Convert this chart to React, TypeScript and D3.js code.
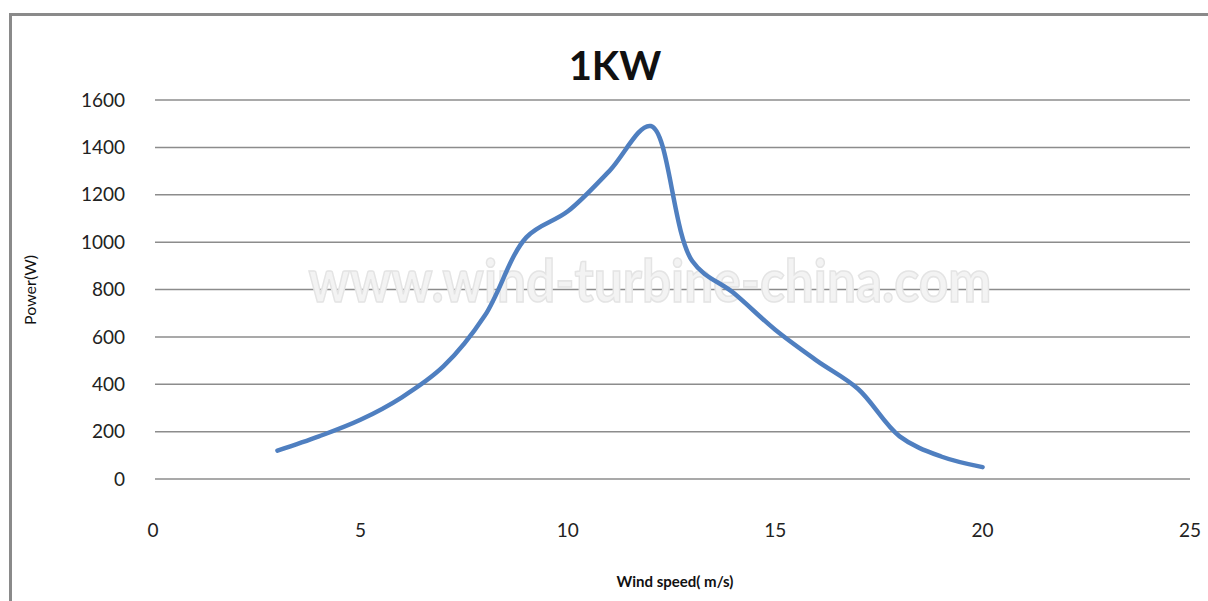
import React, { useEffect, useRef } from "react";
import * as d3 from "d3";

const windSpeed = [3, 4, 5, 6, 7, 8, 9, 10, 11, 12, 13, 14, 15, 16, 17, 18, 19, 20];
const power = [120, 180, 250, 345, 475, 690, 1020, 1130, 1300, 1490, 920, 785, 630, 500, 380, 180, 95, 50];
const xTicks = [0, 5, 10, 15, 20, 25];
const yTicks = [0, 200, 400, 600, 800, 1000, 1200, 1400, 1600];
const title = "1KW";
const xLabel = "Wind speed( m/s)";
const yLabel = "Power(W)";
const watermark = "www.wind-turbine-china.com";

const W = 1208;
const H = 601;
const M = { left: 153, right: 1190, top: 100, bottom: 479 };

export default function App() {
  const ref = useRef<SVGSVGElement>(null);
  useEffect(() => {
    const svg = d3.select(ref.current);
    svg.selectAll("*").remove();
    const x = d3.scaleLinear().domain([0, 25]).range([M.left, M.right]);
    const y = d3.scaleLinear().domain([0, 1600]).range([M.bottom, M.top]);
    const font = "Lato, 'Open Sans', sans-serif";

    svg.append("rect").attr("width", W).attr("height", H).attr("fill", "#fff");
    svg
      .append("rect")
      .attr("x", 10.5)
      .attr("y", 14.5)
      .attr("width", W + 20)
      .attr("height", H + 20)
      .attr("fill", "none")
      .attr("stroke", "#8a8a8a")
      .attr("stroke-width", 3);

    // gridlines
    svg
      .append("g")
      .selectAll("line")
      .data(yTicks)
      .join("line")
      .attr("x1", M.left + 2)
      .attr("x2", M.right)
      .attr("y1", (d) => y(d))
      .attr("y2", (d) => y(d))
      .attr("stroke", "#8c8c8c")
      .attr("stroke-width", 1.5);

    // watermark
    svg
      .append("text")
      .attr("transform", "translate(650,302) scale(0.92,1.05)")
      .attr("text-anchor", "middle")
      .attr("font-family", font)
      .attr("font-weight", "bold")
      .attr("font-size", 56)
      .attr("fill", "#f3f3f3")
      .attr("stroke", "#e4e4e4")
      .attr("stroke-width", 1.5)
      .text(watermark);

    // y tick labels
    svg
      .append("g")
      .selectAll("text")
      .data(yTicks)
      .join("text")
      .attr("x", 125)
      .attr("y", (d) => y(d))
      .attr("dy", "0.35em")
      .attr("text-anchor", "end")
      .attr("font-family", font)
      .attr("font-size", 19)
      .attr("fill", "#222")
      .text((d) => String(d));

    // x tick labels
    svg
      .append("g")
      .selectAll("text")
      .data(xTicks)
      .join("text")
      .attr("x", (d) => x(d))
      .attr("y", 537)
      .attr("text-anchor", "middle")
      .attr("font-family", font)
      .attr("font-size", 19)
      .attr("fill", "#222")
      .text((d) => String(d));

    // line
    const line = d3
      .line<number>()
      .x((_, i) => x(windSpeed[i]))
      .y((d) => y(d))
      .curve(d3.curveCatmullRom.alpha(0.5));
    svg
      .append("path")
      .datum(power)
      .attr("d", line)
      .attr("fill", "none")
      .attr("stroke", "#4f7fc0")
      .attr("stroke-width", 4.5)
      .attr("stroke-linecap", "round")
      .attr("stroke-linejoin", "round");

    // title
    svg
      .append("text")
      .attr("x", 615)
      .attr("y", 80)
      .attr("text-anchor", "middle")
      .attr("font-family", font)
      .attr("font-weight", "bold")
      .attr("font-size", 40)
      .attr("fill", "#111")
      .text(title);

    // axis titles
    svg
      .append("text")
      .attr("x", 675)
      .attr("y", 587)
      .attr("text-anchor", "middle")
      .attr("font-family", font)
      .attr("font-weight", "bold")
      .attr("font-size", 15)
      .attr("fill", "#111")
      .text(xLabel);

    svg
      .append("text")
      .attr("transform", "translate(36,290) rotate(-90)")
      .attr("text-anchor", "middle")
      .attr("font-family", font)
      .attr("font-size", 16)
      .attr("fill", "#111")
      .text(yLabel);
  }, []);

  return (
    <svg
      ref={ref}
      width={W}
      height={H}
      style={{ position: "absolute", left: 0, top: 0, display: "block" }}
    />
  );
}
